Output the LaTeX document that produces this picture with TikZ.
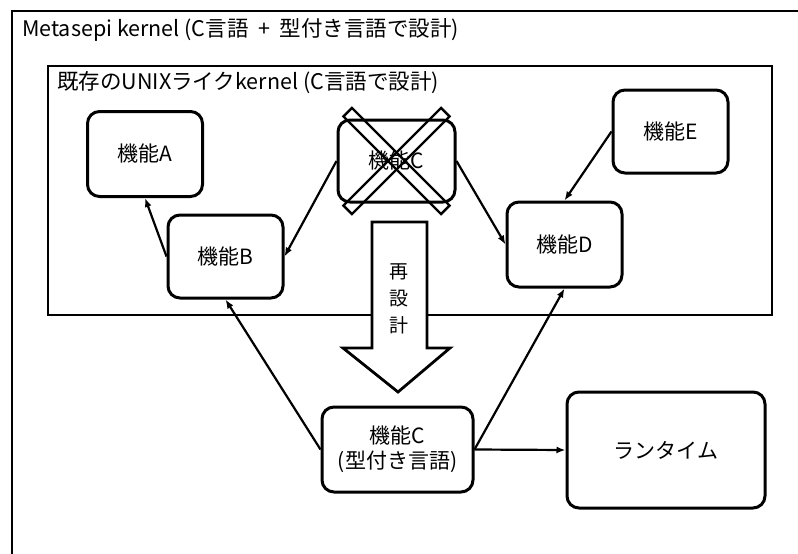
\documentclass[tikz,border=0pt]{standalone}
\usepackage{fontspec}
\setmainfont{Noto Sans CJK JP}
\usetikzlibrary{arrows.meta}

\begin{document}
\begin{tikzpicture}[x=1pt,y=-1pt,
	func/.style={draw, line width=3pt, rounded corners=12pt, align=center, inner sep=0pt, font=\fontsize{21}{25}\selectfont},
	link/.style={line width=2.2pt, -{Latex[length=9pt,width=7pt]}},
	crossbar/.style={draw, line width=2.4pt, minimum width=138pt, minimum height=12pt, inner sep=0pt},
	frametitle/.style={anchor=west, inner sep=0pt, font=\fontsize{21.5}{25}\selectfont}]
	\useasboundingbox (0,0) rectangle (798,554);
	% outer frame (cut by the page edge) and the old kernel
	\draw[line width=2.8pt] (12,11) rectangle (830,600);
	\node[frametitle] (outertitle) at (22,30) {Metasepi kernel (C言語\ \ +\ \ 型付き言語で設計)};
	\draw[line width=2.8pt] (48,66) rectangle (772,315);
	\node[frametitle] (innertitle) at (57,83) {既存のUNIXライクkernel (C言語で設計)};
	% functions
	\node[func, minimum width=115pt, minimum height=85pt] (fa) at (145,154) {機能A};
	\node[func, minimum width=115pt, minimum height=83pt] (fb) at (225.5,256.5) {機能B};
	\node[func, minimum width=117pt, minimum height=82pt] (fc) at (396.5,161) {機能C};
	\node[func, minimum width=115pt, minimum height=85pt] (fd) at (564.5,244.5) {機能D};
	\node[func, minimum width=115pt, minimum height=83pt] (fe) at (670.5,131.5) {機能E};
	\node[crossbar, rotate=-45] (xa) at (fc.center) {};
	\node[crossbar, rotate=45] (xb) at (fc.center) {};
	\draw[link] (fb.west) -- (fa.south);
	\draw[link] (fc.west) -- (fb.east);
	\draw[link] (fc.east) -- (fd.west);
	\draw[link] (fe.west) -- (fd.north);
	% redesign
	\draw[line width=2.8pt, fill=white] (372,222) -- (427,222) -- (427,348) -- (450,348) -- (398,392) -- (343,348) -- (372,348) -- cycle;
	\node[align=center, font=\fontsize{19}{27}\selectfont] (redesign) at (399,299) {再\\設\\計};
	\node[func, minimum width=151pt, minimum height=85pt] (fct) at (397.5,449.5) {機能C\\(型付き言語)};
	\node[func, minimum width=198pt, minimum height=116pt] (rt) at (666,450) {ランタイム};
	\draw[link] (fct.west) -- (fb.south);
	\draw[link] (fct.east) -- (fd.south);
	\draw[link] (fct.east) -- (rt.west);
\end{tikzpicture}
\end{document}
